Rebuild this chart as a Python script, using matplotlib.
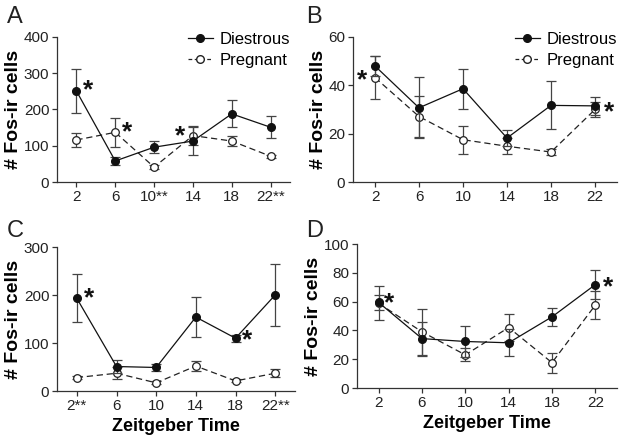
import numpy as np
import matplotlib.pyplot as plt
from matplotlib.lines import Line2D

plt.rcParams['font.family'] = ['Liberation Sans', 'DejaVu Sans']

zt = [2, 6, 10, 14, 18, 22]

# panel A
a_die = [251, 58, 96, 113, 188, 151]
a_die_err = [62, 11, 17, 38, 37, 31]
a_preg = [116, 137, 41, 128, 113, 71]
a_preg_err = [19, 40, 5, 27, 15, 4]

# panel B
b_die = [48, 30.7, 38.6, 18.2, 31.7, 31.5]
b_die_err = [4.3, 12.7, 8.3, 3.2, 9.9, 3.7]
b_preg = [43.2, 27.1, 17.5, 14.8, 12.4, 30.0]
b_preg_err = [9.0, 8.4, 5.8, 3.3, 1.4, 3.3]

# panel C
c_die = [193, 51, 49, 154, 110, 200]
c_die_err = [50, 14, 7, 42, 7, 64]
c_preg = [28, 37, 17, 52, 21, 37]
c_preg_err = [3, 12, 3, 11, 3, 8]

# panel D
d_die = [59.4, 34.3, 32.3, 31.4, 49.4, 71.8]
d_die_err = [5.5, 11.8, 10.5, 9.5, 6.0, 10.2]
d_preg = [58.8, 39.0, 23.0, 42.0, 17.6, 57.6]
d_preg_err = [11.8, 16.0, 4.5, 9.2, 7.0, 10.0]

a_ticks = ['2', '6', '10**', '14', '18', '22**']
b_ticks = ['2', '6', '10', '14', '18', '22']
c_ticks = ['2**', '6', '10', '14', '18', '22**']
d_ticks = b_ticks

fig = plt.figure(figsize=(6.24, 4.4), dpi=100)
W, H = 624.0, 440.0
MS = 5.5


def make_ax(l, r, t, b):
    return fig.add_axes([l / W, 1 - b / H, (r - l) / W, (b - t) / H])


def panel(ax, die, die_err, preg, preg_err, ymax, ystep, ticks, stars, legend=False):
    ebc = '#444444'
    ax.errorbar(zt, preg, yerr=preg_err, color='#222222', ls='--', lw=0.9,
                dashes=(5, 3), marker='o', ms=MS, mfc='white', mec='#222222',
                mew=0.9, ecolor=ebc, elinewidth=0.9, capsize=3.5, capthick=0.9,
                zorder=3)
    ax.errorbar(zt, die, yerr=die_err, color='#111111', ls='-', lw=0.9,
                marker='o', ms=MS, mfc='#111111', mec='#111111',
                ecolor=ebc, elinewidth=0.9, capsize=3.5, capthick=0.9,
                zorder=4)
    ax.set_xlim(0, 24)
    ax.set_ylim(0, ymax)
    ax.set_yticks(np.arange(0, ymax + 1, ystep))
    ax.set_xticks(zt)
    ax.set_xticklabels(ticks)
    for s in ['top', 'right']:
        ax.spines[s].set_visible(False)
    for s in ['left', 'bottom']:
        ax.spines[s].set_linewidth(0.9)
        ax.spines[s].set_color('#333333')
    ax.tick_params(labelsize=11, length=3.5, width=0.9, color='#333333',
                   labelcolor='#222222', pad=2)
    ax.set_ylabel('# Fos-ir cells', fontsize=14, fontweight='bold', labelpad=1)
    for x, y, dx in stars:
        ax.text(x + dx, y, '*', fontsize=19, fontweight='bold',
                ha='center', va='center', color='#111111')
    if legend:
        h = [Line2D([], [], color='#111111', lw=0.9, marker='o', ms=MS,
                    mfc='#111111', mec='#111111'),
             Line2D([], [], color='#222222', lw=0.9, ls='--', dashes=(3, 2),
                    marker='o', ms=MS, mfc='white', mec='#222222')]
        ax.legend(h, ['Diestrous', 'Pregnant'], loc='upper right',
                  bbox_to_anchor=(1.0, 1.035), frameon=False,
                  fontsize=12, handlelength=1.5, handletextpad=0.4,
                  borderaxespad=0.0, borderpad=0.0, labelspacing=0.35)


ax_a = make_ax(57, 290, 37, 182)
panel(ax_a, a_die, a_die_err, a_preg, a_preg_err, 400, 100, a_ticks,
      [(2, 252, 1.2), (6, 137, 1.2), (14, 125, -1.3)], legend=True)
ax_b = make_ax(353, 617, 37, 182)
panel(ax_b, b_die, b_die_err, b_preg, b_preg_err, 60, 20, b_ticks,
      [(2, 42, -1.2), (22, 29, 1.3)], legend=True)
ax_c = make_ax(57, 295, 247, 391)
panel(ax_c, c_die, c_die_err, c_preg, c_preg_err, 300, 100, c_ticks,
      [(2, 193, 1.2), (18, 106, 1.2)])
ax_d = make_ax(357, 617, 244, 388)
panel(ax_d, d_die, d_die_err, d_preg, d_preg_err, 100, 20, d_ticks,
      [(2, 59, 1.0), (22, 70, 1.2)])

for ax in (ax_c, ax_d):
    ax.set_xlabel('Zeitgeber Time', fontsize=13, fontweight='bold', labelpad=4)

for lab, x, y in [('A', 7, 6), ('B', 306, 6), ('C', 7, 220), ('D', 306, 220)]:
    fig.text(x / W, 1 - y / H, lab, fontsize=17, ha='left', va='top', color='#222222')

fig.savefig('out.png', dpi=100)
